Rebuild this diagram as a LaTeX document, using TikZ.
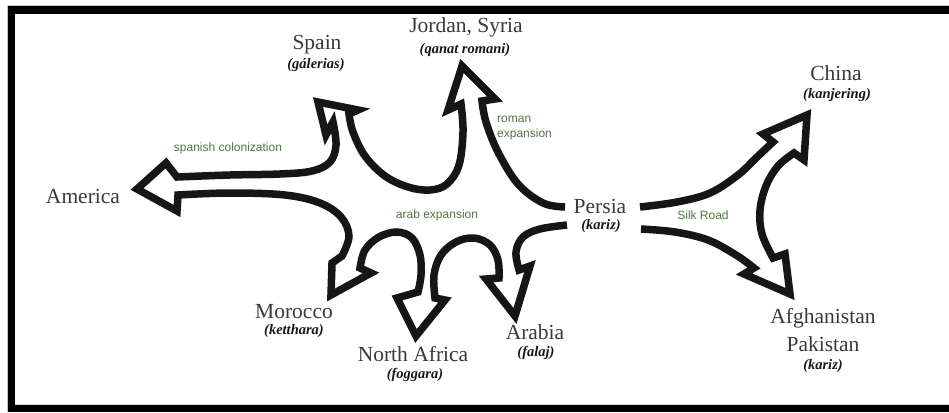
\documentclass[tikz,border=0pt]{standalone}
\usepackage{fontspec}
\setmainfont{Liberation Serif}
\newfontfamily\routefont{Liberation Sans}
\definecolor{routegreen}{RGB}{78,120,62}
\definecolor{ink}{RGB}{22,22,22}
\begin{document}
\begin{tikzpicture}[x=1pt,y=-1pt,
  outline/.style={line width=7.5pt, draw=ink, line join=miter, miter limit=10},
  place/.style={font=\fontsize{21.5}{26}\selectfont, text=ink!85, inner sep=0pt, anchor=base},
  term/.style={font=\fontsize{14.5}{17}\selectfont\bfseries\itshape, text=ink, inner sep=0pt},
  route/.style={font=\routefont\fontsize{12}{15}\selectfont, text=routegreen, inner sep=0pt},
  band/.style={fill=black}]
% canvas and frame
\fill[white] (0,0) rectangle (949,412);
\useasboundingbox (0,0) rectangle (949,412);
\fill[band] (8,6) rectangle (15,412);
\fill[band] (8,6) rectangle (949,14);
\fill[band] (8,405) rectangle (949,412);
\draw[gray!45, line width=1pt] (7.5,412) -- (7.5,5.5) -- (949,5.5);
\draw[gray!30, line width=1pt] (15,404.5) -- (949,404.5);

% western spread: one outline around all the arrows leaving Persia
\draw[outline]
 plot[smooth,tension=0.6] coordinates {(565,207) (543,203) (518,184) (498,152) (486,122) (482,101)}
 -- (495,99) -- (462,66) -- (448,110) -- (461,104)
 -- plot[smooth,tension=0.6] coordinates {(461,104) (463,132) (459,165) (447,184) (430,190) (408,187) (385,176) (365,156) (353,132) (349,114)}
 -- (358,110) -- (318,102) -- (326,135) -- (333,122)
 -- plot[smooth,tension=0.6] coordinates {(333,122) (336,145) (330,162) (312,171) (280,174) (230,175) (177,177)}
 -- (166,163) -- (137,189) -- (177,211) -- (178,195)
 -- plot[smooth,tension=0.6] coordinates {(178,195) (230,193) (285,195) (320,203) (341,217) (349,236) (342,256)}
 -- (332,263) -- (331,295) -- (371,273) -- (360,268)
 -- plot[smooth,tension=0.6] coordinates {(360,268) (365,250) (379,237) (397,232) (412,238) (420,255) (421,275) (418,292)}
 -- (397,298) -- (416,336) -- (445,300) -- (435,298)
 -- plot[smooth,tension=0.6] coordinates {(435,298) (434,275) (441,255) (456,242) (474,238) (490,245) (498,260) (499,278)}
 -- (486,279) -- (515,316) -- (530,266) -- (519,270)
 -- plot[smooth,tension=0.6] coordinates {(519,270) (516,252) (523,237) (540,229) (567,225)};

% eastern spread along the Silk Road
\draw[outline]
 plot[smooth,tension=0.6] coordinates {(640,207) (677,202) (710,193) (738,175) (757,157) (773,142)}
 -- (763,134) -- (807,115) -- (804,160) -- (794,153)
 -- plot[smooth,tension=0.6] coordinates {(794,153) (778,166) (766,186) (760,210) (762,234) (773,258)}
 -- (785,254) -- (790,294) -- (744,274) -- (754,268)
 -- plot[smooth,tension=0.6] coordinates {(754,268) (736,255) (708,240) (675,232) (641,229)};

% places and the local name of the channel
\node[place] (persia) at (600,213) {Persia};
\node[term] (persiaT) at (601,226) {(kariz)};
\node[place] (jordan) at (466,33) {Jordan, Syria};
\node[term] (jordanT) at (465,50) {(qanat romani)};
\node[place] (spain) at (317,49) {Spain};
\node[term] (spainT) at (316,65) {(gálerias)};
\node[place] (america) at (83,203) {America};
\node[place] (morocco) at (294,318) {Morocco};
\node[term] (moroccoT) at (294,331) {(ketthara)};
\node[place] (nafrica) at (413,361) {North Africa};
\node[term] (nafricaT) at (415,375) {(foggara)};
\node[place] (arabia) at (535,339) {Arabia};
\node[term] (arabiaT) at (536,353) {(falaj)};
\node[place] (china) at (836,80) {China};
\node[term] (chinaT) at (837,95) {(kanjering)};
\node[place] (afghan) at (823,323) {Afghanistan};
\node[place] (pakistan) at (823,351) {Pakistan};
\node[term] (pakistanT) at (823,366) {(kariz)};

% routes
\node[route] (colon) at (228,148) {spanish colonization};
\node[route, align=left, anchor=north west] (roman) at (497,116) {roman\\expansion};
\node[route] (arab) at (437,215) {arab expansion};
\node[route] (silk) at (703,215) {Silk Road};
\end{tikzpicture}
\end{document}
